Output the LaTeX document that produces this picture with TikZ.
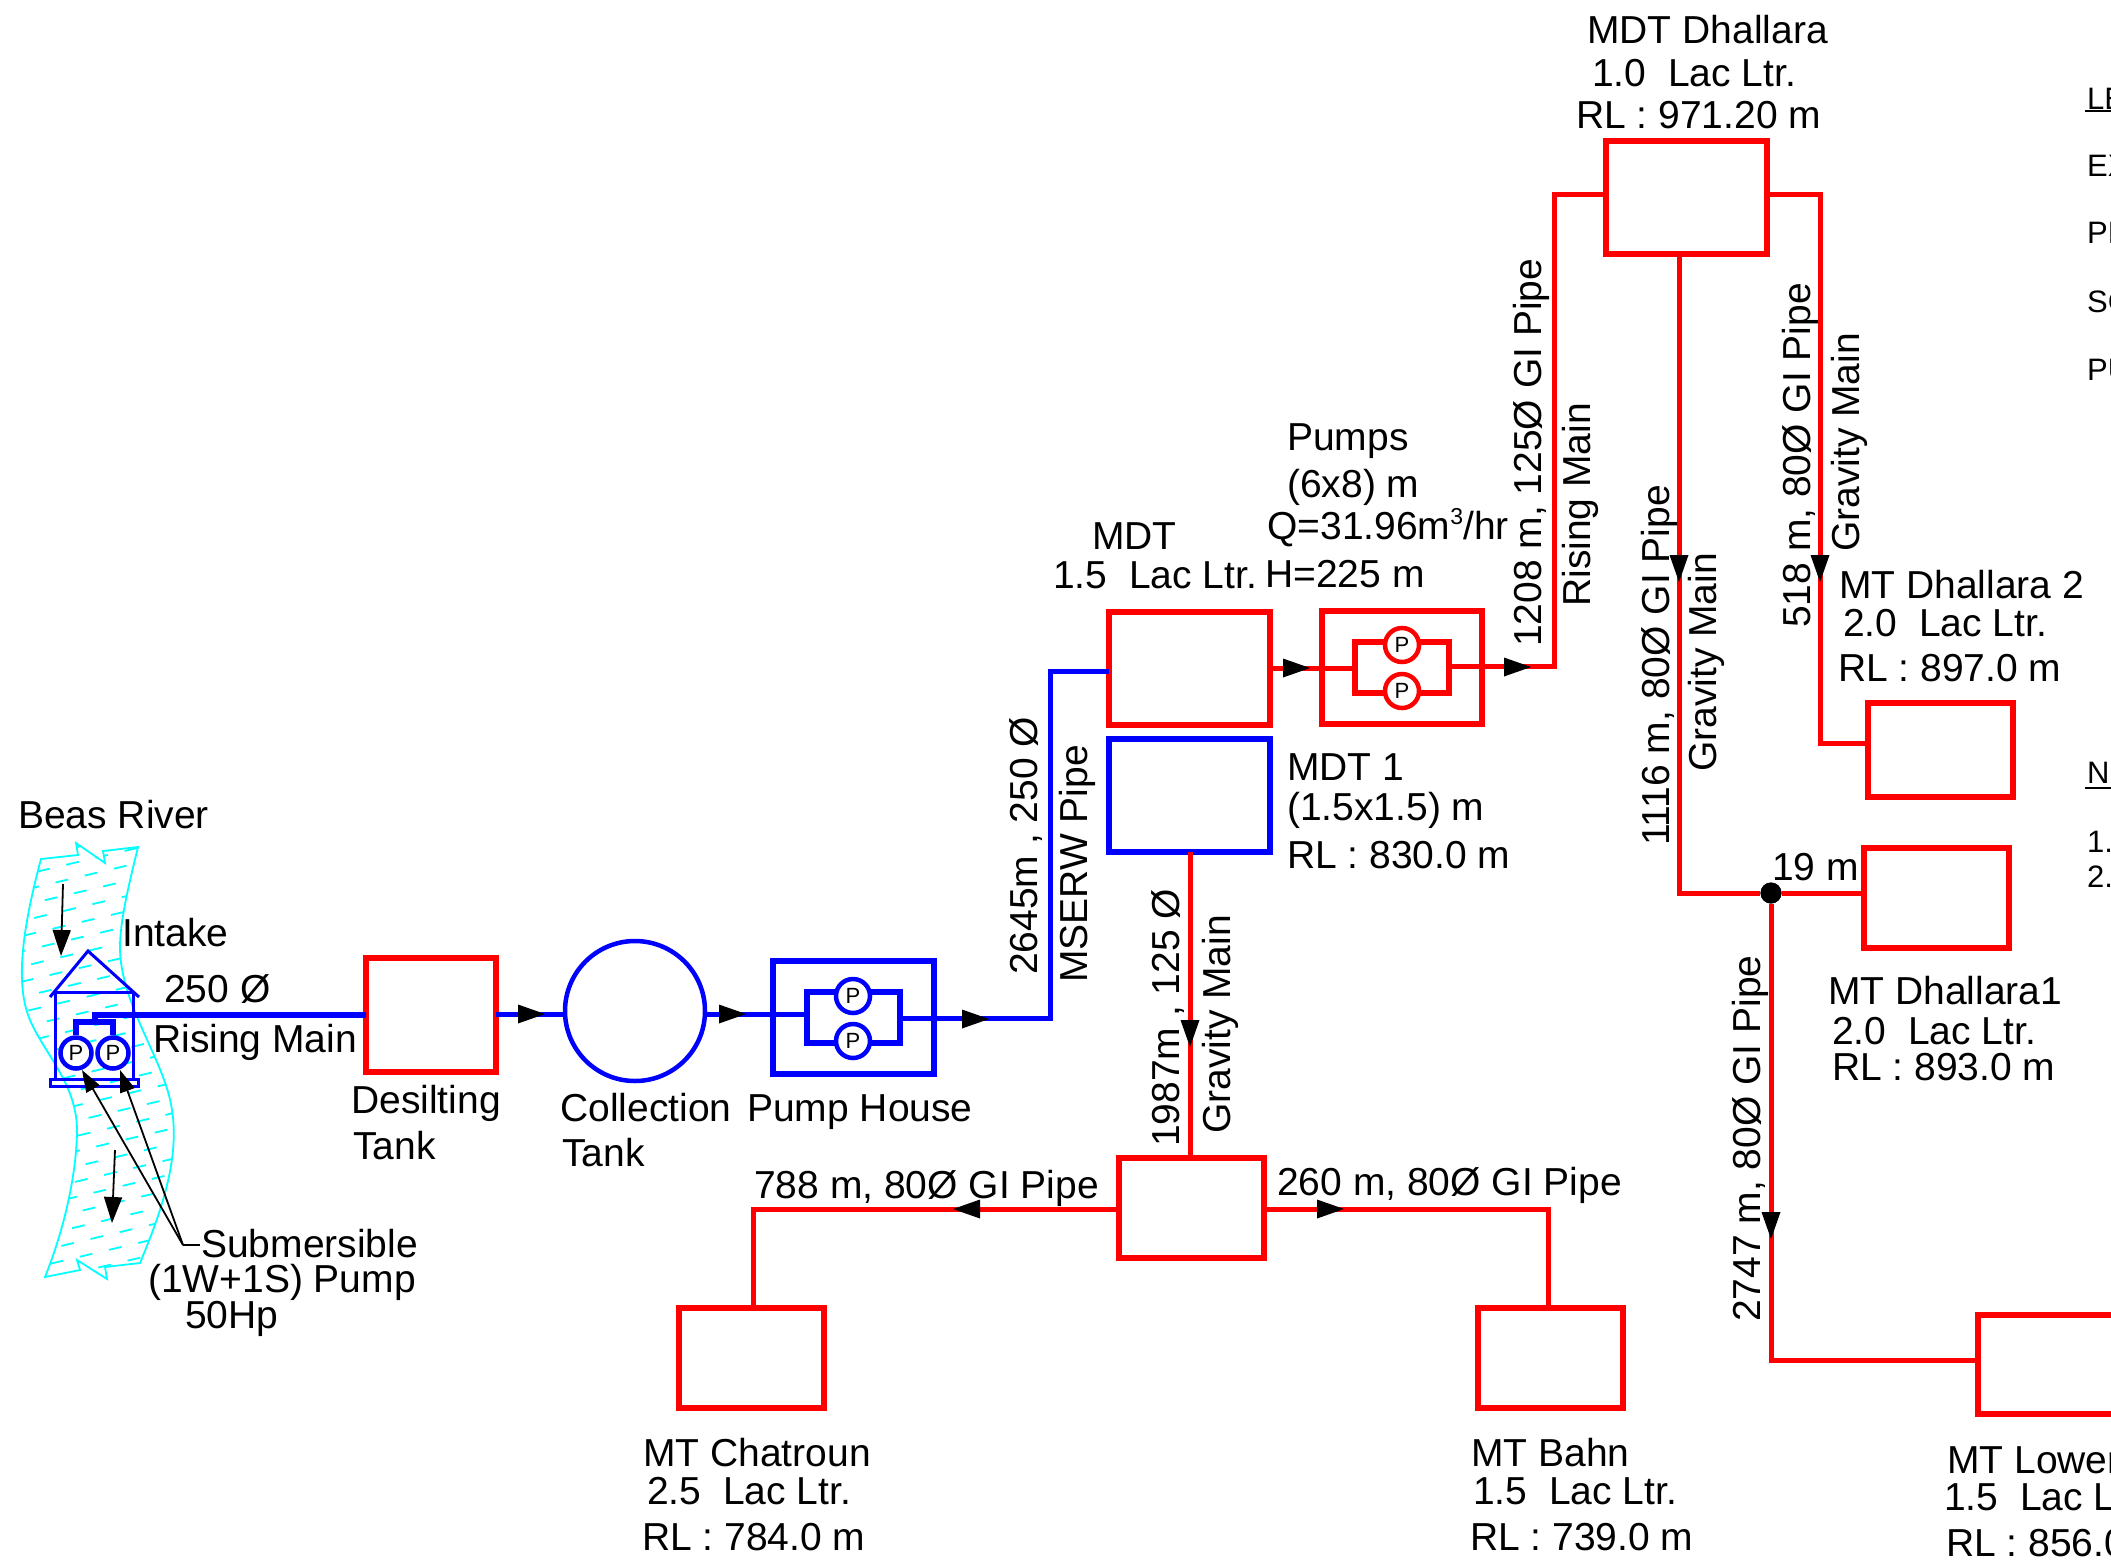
\documentclass[tikz,border=0pt]{standalone}
\usepackage{fontspec}
\setmainfont{Liberation Sans}
\usetikzlibrary{arrows.meta}
\definecolor{rivercyan}{RGB}{0,255,255}
\definecolor{pipered}{RGB}{255,0,0}
\definecolor{pipeblue}{RGB}{0,0,255}
\tikzset{
  x=1pt,y=-1pt,
  tank/.style={rectangle,line width=5.5pt,inner sep=0pt,fill=none,outer sep=0pt},
  redbox/.style={tank,draw=pipered},
  bluebox/.style={tank,draw=pipeblue},
  redpipe/.style={draw=pipered,line width=5pt,line join=miter},
  bluepipe/.style={draw=pipeblue,line width=5pt,line join=miter},
  riser/.style={draw=pipeblue,line width=6pt},
  pumpred/.style={circle,draw=pipered,line width=4.5pt,fill=white,inner sep=0pt,minimum size=34pt,font=\fontsize{22}{24}\selectfont},
  pumpblue/.style={circle,draw=pipeblue,line width=4.5pt,fill=white,inner sep=0pt,minimum size=34pt,font=\fontsize{22}{24}\selectfont},
  label/.style={anchor=base west,inner sep=0pt,font=\fontsize{39}{42}\selectfont},
  vlabel/.style={label,rotate=90},
  legend/.style={anchor=base west,inner sep=0pt,font=\fontsize{31}{33}\selectfont},
  bank/.style={draw=rivercyan,line width=1.8pt},
  house/.style={draw=pipeblue,line width=3pt},
  leader/.style={draw=black,line width=1.8pt},
  leadtip/.style={leader,-{Triangle[length=22pt,width=15pt]}},
  rivertip/.style={leader,-{Triangle[length=26pt,width=18pt]}},
}
\newcommand\tankat[6]{\node[#6,minimum width={(#4-#2)*1pt},minimum height={(#5-#3)*1pt}] (#1) at ({(#2+#4)/2},{(#3+#5)/2}) {};}
\newcommand\tipR[2]{\fill[black] (#1,#2) -- ++(-27,-9.5) -- ++(0,19) -- cycle;}
\newcommand\tipL[2]{\fill[black] (#1,#2) -- ++(27,-9.5) -- ++(0,19) -- cycle;}
\newcommand\tipD[2]{\fill[black] (#1,#2) -- ++(-9.5,-27) -- ++(19,0) -- cycle;}
\newcommand\txt[3]{\node[label] at ({#1-1},#2) {#3};}
\newcommand\vtxt[3]{\node[vlabel] at ({#1-2},{#2+3}) {#3};}
\begin{document}
\begin{tikzpicture}
\useasboundingbox (0,0) rectangle (2111,1561);
\clip (0,0) rectangle (2111,1561);
\def\riverpath{(41,859) .. controls (22,930) and (15,985) .. (30,1020)
  .. controls (45,1055) and (78,1085) .. (77,1133)
  .. controls (76,1180) and (62,1235) .. (45,1277)
  -- (80,1270) -- (77,1260) -- (107,1279) -- (105,1267) -- (140,1263)
  .. controls (160,1215) and (180,1160) .. (172,1110)
  .. controls (165,1060) and (120,1005) .. (120,947)
  .. controls (120,920) and (130,880) .. (138,847)
  -- (103,851) -- (105,863) -- (76,843) -- (78,855) -- cycle}
\begin{scope}
  \clip \riverpath;
  \foreach \r [evaluate=\r as \yy using {850+\r*15.2}, evaluate=\r as \ph using {mod(\r*11,30)}] in {0,...,34} {
    \draw[rivercyan,line width=1.8pt,dash pattern=on 13pt off 17pt,dash phase=\ph pt] (0,\yy) -- (220,\yy-52);
  }
\end{scope}
\draw[bank] \riverpath;
\coordinate (ra1) at (63,884); \coordinate (ra2) at (61,956);
\coordinate (rb1) at (115,1150); \coordinate (rb2) at (112,1223);
\draw[rivertip] (ra1) -- (ra2);
\draw[rivertip] (rb1) -- (rb2);
% intake house
\coordinate (apex) at (88,951); \coordinate (eaveL) at (50,997); \coordinate (eaveR) at (139,997);
\draw[house] (eaveL) -- (apex) -- (eaveR);
\draw[house] (55,992) -- (133,992);
\draw[house] (55,992) -- (55,1080);
\draw[house] (133,992) -- (133,1080);
\draw[house] (50,1079) rectangle (138,1086);
\node[pumpblue,minimum size=31pt] (ip1) at (76,1053) {P};
\node[pumpblue,minimum size=31pt] (ip2) at (113,1053) {P};
% tanks
\tankat{desilt}{366}{958}{496}{1072}{redbox}
\node[circle,draw=pipeblue,line width=4.5pt,minimum size=140pt,inner sep=0pt] (coll) at (635,1011) {};
\tankat{phouse}{773}{961}{934}{1074}{bluebox}
\tankat{mdt}{1109}{612}{1270}{725}{redbox}
\tankat{mdtone}{1109}{739}{1270}{852}{bluebox}
\tankat{pbox}{1322}{611}{1482}{724}{redbox}
\tankat{dhal}{1606}{141}{1767}{254}{redbox}
\tankat{dtwo}{1868}{703}{2013}{797}{redbox}
\tankat{done}{1864}{848}{2009}{948}{redbox}
\tankat{lower}{1978}{1315}{2140}{1414}{redbox}
\tankat{grav}{1119}{1158}{1264}{1258}{redbox}
\tankat{chat}{679}{1308}{824}{1408}{redbox}
\tankat{bahn}{1478}{1308}{1623}{1408}{redbox}
% pumps
\draw[bluepipe,line width=5.5pt] (807,992) rectangle (900,1043);
\node[pumpblue] (pb1) at (853,996) {P};
\node[pumpblue] (pb2) at (853,1041) {P};
\draw[redpipe,line width=5.5pt] (1355,642) rectangle (1449,693);
\node[pumpred] (pr1) at (1402,645) {P};
\node[pumpred] (pr2) at (1402,691) {P};
% intake pipes
\draw[bluepipe,line width=5.5pt] (ip1.north) |- (95,1022) -| (ip2.north);
\draw[riser] (95,1022) |- (desilt.west |- 95,1015);
% blue connectors
\draw[bluepipe] (desilt.east |- 0,1014) -- (coll.west |- 0,1014);
\draw[bluepipe] (coll.east |- 0,1014) -- (807,1014);
\draw[bluepipe] (900,1018) -- (1050,1018) -- (1050,671) -- (mdt.west |- 0,671);
% red connectors
\draw[redpipe] (mdt.east |- 0,668) -- (1355,668);
\draw[redpipe] (1449,666) -- (1554,666) -- (1554,194) -- (dhal.west |- 0,194);
\draw[redpipe] (dhal.east |- 0,194) -- (1820,194) -- (1820,743) -- (dtwo.west |- 0,743);
\node[circle,fill=black,minimum size=21pt,inner sep=0pt] (junc) at (1771,893) {};
\draw[redpipe] (1679,254) -- (1679,893) -- (junc);
\draw[redpipe] (junc) -- (done.west |- junc);
\draw[redpipe] (junc) -- (1771,1360) -- (lower.west |- 0,1360);
\draw[redpipe] (mdtone.south -| 1190,0) -- (grav.north -| 1190,0);
\draw[redpipe] (grav.west |- 0,1209) -- (753,1209) -- (753,1308);
\draw[redpipe] (grav.east |- 0,1209) -- (1548,1209) -- (1548,1308);
\node[circle,fill=black,minimum size=21pt,inner sep=0pt] at (junc) {};
% flow arrowheads
\tipR{545}{1014}
\tipR{746}{1014}
\tipR{989}{1019}
\tipR{1310}{668}
\tipR{1531}{667}
\tipD{1190}{1047}
\tipL{953}{1209}
\tipR{1344}{1209}
\tipD{1679}{582}
\tipD{1820}{582}
\tipD{1771}{1239}
% leader
\coordinate (lk) at (183,1245); \coordinate (ll) at (200,1245);
\coordinate (lp1) at (82,1070); \coordinate (lp2) at (120,1070);
\draw[leader] (ll) -- (lk);
\draw[leadtip] (lk) -- (lp1);
\draw[leadtip] (lk) -- (lp2);
% texts
\txt{19}{828}{Beas River}
\txt{123}{946}{Intake}
\txt{165}{1002}{250 Ø}
\txt{154}{1052}{Rising Main}
\txt{352}{1113}{Desilting}
\txt{354}{1159}{Tank}
\txt{202}{1257}{Submersible}
\txt{149}{1292}{(1W+1S) Pump}
\txt{186}{1328}{50Hp}
\txt{561}{1121}{Collection}
\txt{563}{1166}{Tank}
\txt{748}{1121}{Pump House}
\txt{755}{1198}{788 m, 80Ø GI Pipe}
\txt{1278}{1195}{260 m, 80Ø GI Pipe}
\txt{644}{1466}{MT Chatroun}
\txt{648}{1504}{2.5\ \ Lac Ltr.}
\txt{643}{1550}{RL : 784.0 m}
\txt{1472}{1466}{MT Bahn}
\txt{1474}{1504}{1.5\ \ Lac Ltr.}
\txt{1471}{1550}{RL : 739.0 m}
\txt{1948}{1473}{MT Lower}
\txt{1945}{1510}{1.5\ \ Lac L}
\txt{1947}{1556}{RL : 856.0}
\txt{1588}{43}{MDT Dhallara}
\txt{1593}{86}{1.0\ \ Lac Ltr.}
\txt{1577}{128}{RL : 971.20 m}
\txt{1288}{450}{Pumps}
\txt{1288}{497}{(6x8) m}
\txt{1268}{539}{Q=31.96m\raisebox{15pt}{\fontsize{23}{23}\selectfont 3}/hr}
\txt{1266}{587}{H=225 m}
\txt{1093}{549}{MDT}
\txt{1054}{588}{1.5\ \ Lac Ltr.}
\txt{1288}{780}{MDT 1}
\txt{1288}{820}{(1.5x1.5) m}
\txt{1288}{868}{RL : 830.0 m}
\txt{1840}{598}{MT Dhallara 2}
\txt{1844}{636}{2.0\ \ Lac Ltr.}
\txt{1839}{681}{RL : 897.0 m}
\txt{1773}{880}{19 m}
\txt{1829}{1004}{MT Dhallara1}
\txt{1833}{1044}{2.0\ \ Lac Ltr.}
\txt{1833}{1080}{RL : 893.0 m}
\vtxt{1039}{972}{2645m , 250 Ø}
\vtxt{1089}{980}{MSERW Pipe}
\vtxt{1181}{1144}{1987m , 125 Ø}
\vtxt{1232}{1131}{Gravity Main}
\vtxt{1543}{644}{1208 m, 125Ø GI Pipe}
\vtxt{1592}{604}{Rising Main}
\vtxt{1671}{843}{1116 m, 80Ø GI Pipe}
\vtxt{1718}{769}{Gravity Main}
\vtxt{1812}{625}{518 m, 80Ø GI Pipe}
\vtxt{1861}{549}{Gravity Main}
\vtxt{1762}{1319}{2747 m, 80Ø GI Pipe}
% legend, cut by the page edge
\node[legend] (lg) at (2087,109) {LE};
\draw[black,line width=1.2pt] (2085,111) -- (2111,111);
\node[legend] at (2087,176) {EX};
\node[legend] at (2087,243) {PF};
\node[legend] at (2087,312) {SC};
\node[legend] at (2087,380) {PU};
\node[legend] (nt) at (2087,783) {NO};
\draw[black,line width=1.2pt] (2085,788) -- (2111,788);
\node[legend] at (2087,852) {1.};
\node[legend] at (2087,887) {2.};
\end{tikzpicture}
\end{document}
